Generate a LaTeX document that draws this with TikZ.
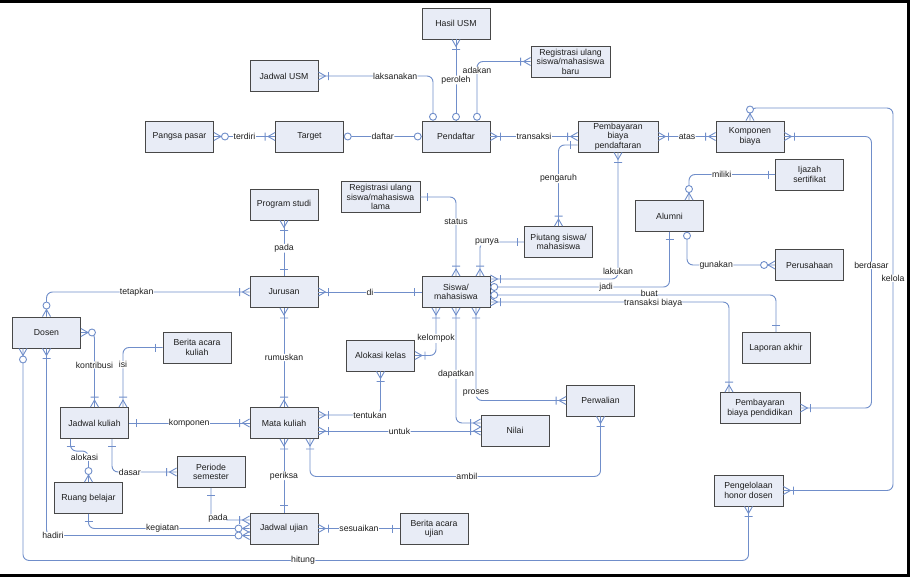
\documentclass[tikz,border=0pt]{standalone}
\usepackage{fontspec}
\setmainfont{Liberation Sans}
\usetikzlibrary{arrows.meta}

\definecolor{boxfill}{RGB}{232,236,246}
\definecolor{boxborder}{RGB}{72,72,72}
\definecolor{lnk}{RGB}{112,142,202}
\definecolor{txt}{RGB}{30,30,30}

% crow's foot + bar (one or many)
\pgfdeclarearrow{
  name = ERmo,
  setup code = {\pgfarrowssettipend{0pt}\pgfarrowssetlineend{0pt}\pgfarrowssetbackend{-11pt}%
    \pgfarrowsupperhullpoint{0pt}{4.5pt}\pgfarrowsupperhullpoint{-11pt}{4.5pt}},
  drawing code = {\pgfsetlinewidth{0.9pt}%
    \pgfpathmoveto{\pgfqpoint{0pt}{4pt}}\pgfpathlineto{\pgfqpoint{-7pt}{0pt}}\pgfpathlineto{\pgfqpoint{0pt}{-4pt}}%
    \pgfpathmoveto{\pgfqpoint{-10pt}{4pt}}\pgfpathlineto{\pgfqpoint{-10pt}{-4pt}}%
    \pgfusepathqstroke},
  parameters = {},
  defaults = {}
}
% crow's foot + circle (zero or many)
\pgfdeclarearrow{
  name = ERmz,
  setup code = {\pgfarrowssettipend{0pt}\pgfarrowssetlineend{0pt}\pgfarrowssetbackend{-15pt}%
    \pgfarrowsupperhullpoint{0pt}{4.5pt}\pgfarrowsupperhullpoint{-15pt}{4.5pt}},
  drawing code = {\pgfsetlinewidth{0.9pt}%
    \pgfpathmoveto{\pgfqpoint{0pt}{4pt}}\pgfpathlineto{\pgfqpoint{-7pt}{0pt}}\pgfpathlineto{\pgfqpoint{0pt}{-4pt}}%
    \pgfusepathqstroke
    \pgfsetfillcolor{white}%
    \pgfpathcircle{\pgfqpoint{-11pt}{0pt}}{3.5pt}%
    \pgfusepathqfillstroke},
  parameters = {},
  defaults = {}
}
% bar (one)
\pgfdeclarearrow{
  name = ERone,
  setup code = {\pgfarrowssettipend{0pt}\pgfarrowssetlineend{0pt}\pgfarrowssetbackend{-8pt}%
    \pgfarrowsupperhullpoint{0pt}{4.5pt}\pgfarrowsupperhullpoint{-8pt}{4.5pt}},
  drawing code = {\pgfsetlinewidth{0.9pt}%
    \pgfpathmoveto{\pgfqpoint{-7pt}{4pt}}\pgfpathlineto{\pgfqpoint{-7pt}{-4pt}}%
    \pgfusepathqstroke},
  parameters = {},
  defaults = {}
}
% circle (zero)
\pgfdeclarearrow{
  name = ERzero,
  setup code = {\pgfarrowssettipend{0pt}\pgfarrowssetlineend{0pt}\pgfarrowssetbackend{-8pt}%
    \pgfarrowsupperhullpoint{0pt}{4.5pt}\pgfarrowsupperhullpoint{-8pt}{4.5pt}},
  drawing code = {\pgfsetlinewidth{0.9pt}%
    \pgfsetfillcolor{white}%
    \pgfpathcircle{\pgfqpoint{-3.8pt}{0pt}}{3.5pt}%
    \pgfusepathqfillstroke},
  parameters = {},
  defaults = {}
}

\tikzset{
  ent/.style={draw=boxborder, fill=boxfill, line width=0.9pt, minimum width=68pt,
    minimum height=31pt, inner sep=1pt, align=center, text=txt,
    font=\fontsize{8.7}{9.5}\selectfont},
  wide/.style={ent, minimum width=79pt},
  conn/.style={draw=lnk, line width=0.9pt, rounded corners=6pt},
  lbl/.style={fill=white, inner sep=0.4pt, text=txt, font=\fontsize{8.7}{9.5}\selectfont},
}

\begin{document}
\begin{tikzpicture}[x=1pt, y=-1pt]
\useasboundingbox (0,0) rectangle (919,581);
\fill[white] (0,0) rectangle (919,581);

% frame
\draw[line width=3pt, black] (0,1.5) -- (909.5,1.5);
\draw[line width=3pt, black] (908,0) -- (908,577);
\draw[line width=3pt, black] (0,575) -- (909.5,575);

% entities
\node[ent] (hasil) at (456,23.5) {Hasil USM};
\node[ent] (jusm) at (284,76) {Jadwal USM};
\node[wide] (regbaru) at (570.5,61.5) {Registrasi ulang\\siswa/mahasiswa\\baru};
\node[ent] (pangsa) at (179.5,136.5) {Pangsa pasar};
\node[ent] (target) at (309.5,136.5) {Target};
\node[ent] (pend) at (456,136.5) {Pendaftar};
\node[wide, minimum width=80pt] (pbpd) at (618,136.5) {Pembayaran\\biaya\\pendaftaran};
\node[ent] (komp) at (750,136.5) {Komponen\\biaya};
\node[ent] (ijazah) at (809.5,174.5) {Ijazah\\sertifikat};
\node[ent] (alumni) at (669.5,216) {Alumni};
\node[ent] (prodi) at (284,204.5) {Program studi};
\node[wide] (reglama) at (380.5,197) {Registrasi ulang\\siswa/mahasiswa\\lama};
\node[ent] (piutang) at (558.5,242) {Piutang siswa/\\mahasiswa};
\node[ent] (perus) at (809.5,265) {Perusahaan};
\node[ent] (jurusan) at (284,292) {Jurusan};
\node[ent] (siswa) at (456,292) {Siswa/\\mahasiswa};
\node[ent] (lapor) at (776,348) {Laporan akhir};
\node[ent] (dosen) at (46.5,332.5) {Dosen};
\node[ent] (bak) at (197,347.5) {Berita acara\\kuliah};
\node[ent] (alokasi) at (380.5,355.5) {Alokasi kelas};
\node[ent] (perwalian) at (600.5,400.5) {Perwalian};
\node[wide, minimum width=80pt] (pbpdk) at (760,408) {Pembayaran\\biaya pendidikan};
\node[ent] (jkul) at (94.5,423) {Jadwal kuliah};
\node[ent] (mk) at (284,423) {Mata kuliah};
\node[ent] (nilai) at (515,430.5) {Nilai};
\node[ent] (periode) at (211,472) {Periode\\semester};
\node[ent] (ruang) at (88.5,498) {Ruang belajar};
\node[ent, minimum width=69pt] (honor) at (748.5,490.5) {Pengelolaan\\honor dosen};
\node[ent] (jujian) at (284,528.5) {Jadwal ujian};
\node[ent] (bau) at (434,528.5) {Berita acara\\ujian};

% connectors
\draw[conn, ERmo-ERzero] (jusm.east) -| ([xshift=-23]pend.north) node[lbl,pos=0.335](l1){laksanakan};
\draw[conn, ERmo-ERzero] (hasil.south) -- (pend.north) node[lbl,pos=0.5](l2){peroleh};
\draw[conn, ERmo-ERzero] (regbaru.west) -| ([xshift=21]pend.north) node[lbl,pos=0.575](l3){adakan};
\draw[conn, ERmz-ERmo] (pangsa.east) -- (target.west) node[lbl,pos=0.5](l4){terdiri};
\draw[conn, ERzero-ERzero] (target.east) -- (pend.west) node[lbl,pos=0.5](l5){daftar};
\draw[conn, ERmo-ERmo] (pend.east) -- (pbpd.west) node[lbl,pos=0.5](l6){transaksi};
\draw[conn, ERmo-ERmo] (pbpd.east) -- (komp.west) node[lbl,pos=0.5](l7){atas};
\draw[conn, ERmz-ERmo] (komp.north) |- (893,108) |- (honor.east) node[lbl,pos=0.2225](l8){kelola};
\draw[conn, ERmo-ERmo] (komp.east) -| ([xshift=71]pbpdk.east) node[lbl,pos=0.737](l9){berdasar} -- (pbpdk.east);
\draw[conn, ERone-ERmz] (ijazah.west) -| ([xshift=19.5]alumni.north) node[lbl,pos=0.31](l10){miliki};
\draw[conn, ERmo-ERmo] (pbpd.south) |- ([yshift=13]siswa.east) node[lbl,pos=0.47](l11){lakukan};
\draw[conn, ERone-ERzero] (alumni.south) |- ([yshift=5]siswa.east) node[lbl,pos=0.677](l12){jadi};
\draw[conn, ERzero-ERmz] ([xshift=17.5]alumni.south) |- (perus.west) node[lbl,pos=0.666](l13){gunakan};
\draw[conn, ERmo-ERmo] ([yshift=-10]siswa.east) -| ([xshift=-31]pbpdk.north) node[lbl,pos=0.341,yshift=-1.5,inner sep=0.2pt](l15){transaksi biaya};
\draw[conn, ERzero-ERone] ([yshift=-3]siswa.east) -| (lapor.north) node[lbl,pos=0.278,yshift=2,inner sep=0.2pt](l14){buat};
\draw[conn, ERone-ERmo] ([yshift=-8.5]pbpd.west) -| (piutang.north) node[lbl,pos=0.707](l16){pengaruh};
\draw[conn, ERone-ERmo] (piutang.west) -| ([xshift=24]siswa.north) node[lbl,pos=0.42](l17){punya};
\draw[conn, ERone-ERmo] (reglama.east) -| (siswa.north) node[lbl,pos=0.656](l18){status};
\draw[conn, ERmo-ERone] (prodi.south) -- (jurusan.north) node[lbl,pos=0.5](l19){pada};
\draw[conn, ERmo-ERone] (jurusan.east) -- (siswa.west) node[lbl,pos=0.5](l20){di};
\draw[conn, ERmz-ERmo] (dosen.north) |- (jurusan.west) node[lbl,pos=0.722](l21){tetapkan};
\draw[conn, ERmo-ERmo] (jurusan.south) -- (mk.north) node[lbl,pos=0.5](l22){rumuskan};
\draw[conn, ERmz-ERmo] (dosen.east) -| (jkul.north) node[lbl,pos=0.718](l23){kontribusi};
\draw[conn, ERone-ERmo] (bak.west) -| ([xshift=28.5]jkul.north) node[lbl,pos=0.645](l24){isi};
\draw[conn, ERone-ERmo] (jkul.east) -- (mk.west) node[lbl,pos=0.5](l25){komponen};
\draw[conn, ERmo-ERmo] ([yshift=8]mk.east) -| (alokasi.south) node[lbl,pos=0.416](l26){tentukan};
\draw[conn, ERmo-ERmo] ([yshift=-8]mk.east) -- ([yshift=-0.5]nilai.west) node[lbl,pos=0.5](l27){untuk};
\draw[conn, ERmo-ERmo] (siswa.south) |- ([yshift=7.5]nilai.west) node[lbl,pos=0.289](l28){dapatkan};
\draw[conn, ERmo-ERmo] ([xshift=-20]siswa.south) |- (alokasi.east) node[lbl,pos=0.32](l29){kelompok};
\draw[conn, ERmo-ERmo] ([xshift=20]siswa.south) |- (perwalian.west) node[lbl,pos=0.46](l30){proses};
\draw[conn, ERmo-ERmo] ([xshift=26]mk.south) |- ([yshift=-60]perwalian.south) node[lbl,pos=0.77](l31){ambil} -- (perwalian.south);
\draw[conn, ERmo-ERone] (mk.south) -- (jujian.north) node[lbl,pos=0.5](l32){periksa};
\draw[conn, ERone-ERmz] ([xshift=-24]jkul.south) |- ([yshift=31]ruang.north) -- (ruang.north) node[lbl,pos=0.2,xshift=-4](l33){alokasi};
\draw[conn, ERone-ERmo] ([xshift=17.5]jkul.south) |- (periode.west) node[lbl,pos=0.638](l34){dasar};
\draw[conn, ERone-ERmo] (periode.south) |- ([yshift=8.5]jujian.west) node[lbl,pos=0.59,yshift=2](l35){pada};
\draw[conn, ERone-ERmz] (ruang.south) |- (jujian.west) node[lbl,pos=0.73](l36){kegiatan};
\draw[conn, ERmo-ERmz] (dosen.south) |- ([yshift=-7]jujian.west) node[lbl,pos=0.516](l37){hadiri};
\draw[conn, ERmz-ERmo] ([xshift=-23.5]dosen.south) |- ([yshift=-54]honor.south) node[lbl,pos=0.693](l38){hitung} -- (honor.south);
\draw[conn, ERmo-ERone] (jujian.east) -- (bau.west) node[lbl,pos=0.5](l39){sesuaikan};
\end{tikzpicture}
\end{document}
